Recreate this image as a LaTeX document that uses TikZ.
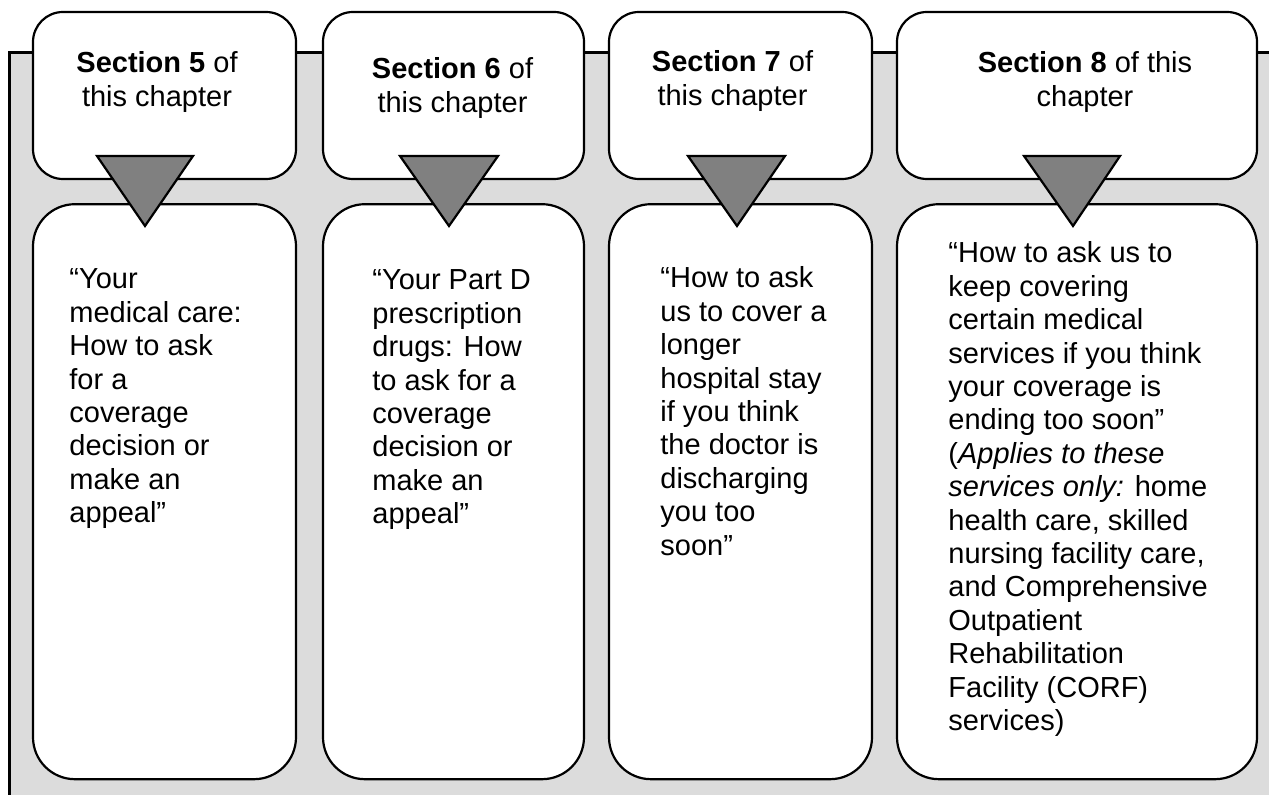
\documentclass[tikz,border=0pt]{standalone}
\usepackage{fontspec}
\setmainfont{Liberation Sans}
\usetikzlibrary{positioning}
\definecolor{panelgray}{RGB}{220,220,220}
\definecolor{pointergray}{RGB}{128,128,128}
\newcommand{\headlines}[1]{\begin{tabular}[t]{@{}c@{}}#1\end{tabular}}
\newcommand{\bodylines}[1]{\begin{tabular}[t]{@{}l@{}}#1\end{tabular}}
\tikzset{
    headbox/.style={draw, fill=white, line width=1.1pt, rounded corners=15pt,
        inner sep=0, minimum height=83.5pt},
    bodybox/.style={draw, fill=white, line width=1.1pt, rounded corners=21pt,
        inner sep=0, minimum height=287.5pt},
    pointer/.style={fill=pointergray, draw, line width=1.1pt, line join=miter},
    headtext/.style={anchor=base, inner sep=0},
    bodytext/.style={anchor=base west, inner sep=0}
}
\begin{document}
\begin{tikzpicture}[x=0.5pt, y=-0.5pt, font=\fontsize{14.5pt}{16.7pt}\selectfont]
        \useasboundingbox (0,0) rectangle (1269,795);
        % grey panel, framed on top and left only
        \coordinate (pbl) at (9,795);
        \coordinate (ptl) at (9,53);
        \coordinate (ptr) at (1269,53);
        \fill[panelgray] (ptl) rectangle (1269,795);
        \draw[line width=1.5pt] (pbl) -- (ptl) -- (ptr);
        % section boxes
        \node[headbox, minimum width=131.5pt] (top1) at (164.5,95.5) {};
        \node[headbox, minimum width=130.5pt] (top2) at (453.5,95.5) {};
        \node[headbox, minimum width=131.5pt] (top3) at (740.5,95.5) {};
        \node[headbox, minimum width=180pt]   (top4) at (1077,95.5) {};
        % chapter boxes
        \node[bodybox, minimum width=131.5pt, below=11.5pt of top1] (body1) {};
        \node[bodybox, minimum width=130.5pt, below=11.5pt of top2] (body2) {};
        \node[bodybox, minimum width=131.5pt, below=11.5pt of top3] (body3) {};
        \node[bodybox, minimum width=180pt,   below=11.5pt of top4] (body4) {};
        % pointers
        \draw[pointer] (97,156) -- (193,156) -- (145,226) -- cycle;
        \draw[pointer] (400,156) -- (498,156) -- (449,226) -- cycle;
        \draw[pointer] (688,156) -- (785,156) -- (737,226) -- cycle;
        \draw[pointer] (1024,156) -- (1120,156) -- (1073,226) -- cycle;
        % texts
        \node[headtext] (head1) at (157,73)
            {\headlines{\textbf{Section 5} of\\this chapter}};
        \node[headtext] (head2) at (452.5,79)
            {\headlines{\textbf{Section 6} of\\this chapter}};
        \node[headtext] (head3) at (732.5,72)
            {\headlines{\textbf{Section 7} of\\this chapter}};
        \node[headtext] (head4) at (1085,73)
            {\headlines{\textbf{Section 8} of this\\chapter}};
        \node[bodytext] (text1) at (69,289)
            {\bodylines{“Your\\medical care:\\How to ask\\for a\\coverage\\decision or\\make an\\appeal”}};
        \node[bodytext] (text2) at (372,290)
            {\bodylines{“Your Part D\\prescription\\drugs: How\\to ask for a\\coverage\\decision or\\make an\\appeal”}};
        \node[bodytext] (text3) at (660,288)
            {\bodylines{“How to ask\\us to cover a\\longer\\hospital stay\\if you think\\the doctor is\\discharging\\you too\\soon”}};
        \node[bodytext] (text4) at (948,263)
            {\bodylines{“How to ask us to\\keep covering\\certain medical\\services if you think\\your coverage is\\ending too soon”\\(\textit{Applies to these}\\\textit{services only:} home\\health care, skilled\\nursing facility care,\\and Comprehensive\\Outpatient\\Rehabilitation\\Facility (CORF)\\services)}};
\end{tikzpicture}
\end{document}
